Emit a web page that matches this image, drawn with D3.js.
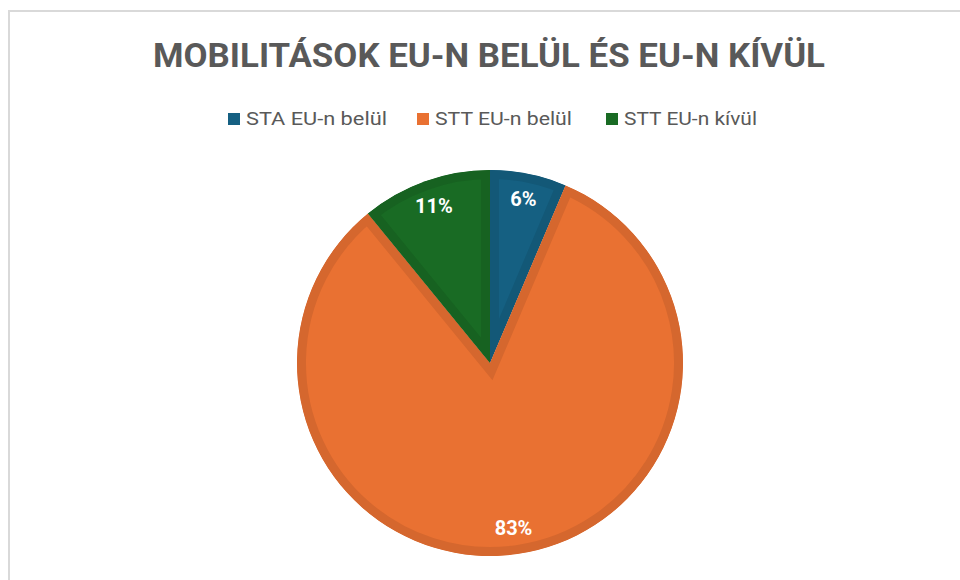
<!DOCTYPE html>
<html>
<head>
<meta charset="utf-8">
<script src="https://cdn.jsdelivr.net/npm/d3@7"></script>
<style>
  body { margin: 0; background: #fff; }
  svg { display: block; font-family: Roboto, "Open Sans", sans-serif; }
</style>
</head>
<body>
<svg id="chart" width="960" height="580"></svg>
<script>
// chart data
const title = "MOBILITÁSOK EU-N BELÜL ÉS EU-N KÍVÜL";
const categories = ["STA EU-n belül", "STT EU-n belül", "STT EU-n kívül"];
const values = [6.4, 82.7, 10.9];
const colors = ["#156082", "#E97132", "#196B24"];

const width = 960, height = 580;
const cx = 490, cy = 363, radius = 193, band = 9;

let svg = d3.select("#chart");

// frame of the chart area
svg.append("rect")
    .attr("x", 9).attr("y", 11)
    .attr("width", 1000).attr("height", 1000)
    .attr("fill", "#fff")
    .attr("stroke", "#d9d9d9")
    .attr("stroke-width", 2);

svg.append("text")
    .attr("x", 489).attr("y", 67)
    .attr("text-anchor", "middle")
    .attr("font-size", 33)
    .attr("font-weight", "bold")
    .attr("fill", "#595959")
    .attr("textLength", 672)
    .attr("lengthAdjust", "spacingAndGlyphs")
    .text(title);

// legend
const legendX = [228, 417, 606];
const legendW = [141, 137, 133];
const legend = svg.append("g").selectAll("g")
    .data(categories)
    .join("g")
    .attr("transform", (d, i) => `translate(${legendX[i]}, 113)`);

legend.append("rect")
    .attr("width", 12).attr("height", 12)
    .attr("fill", (d, i) => colors[i]);

legend.append("text")
    .attr("x", 18).attr("y", 6)
    .attr("dy", "0.35em")
    .attr("font-size", 18)
    .attr("fill", "#595959")
    .attr("textLength", (d, i) => legendW[i])
    .attr("lengthAdjust", "spacingAndGlyphs")
    .text(d => d);

// pie
const total = d3.sum(values);
const pie = d3.pie().sort(null).value(d => d.value);
const arcs = pie(categories.map((c, i) => ({name: c, value: values[i], color: colors[i]})));

const arc = d3.arc().innerRadius(0).outerRadius(radius);
const labelArc = d3.arc().innerRadius(167).outerRadius(167);

const g = svg.append("g").attr("transform", `translate(${cx}, ${cy})`);

const defs = svg.append("defs");
arcs.forEach((d, i) => {
    defs.append("clipPath").attr("id", "clip" + i)
        .append("path").attr("d", arc(d));
});

g.selectAll("path.slice")
    .data(arcs)
    .join("path")
    .attr("class", "slice")
    .attr("d", arc)
    .attr("fill", d => d.data.color)
    .attr("stroke", d => d3.color(d.data.color).darker(0.25))
    .attr("stroke-width", band * 2)
    .attr("stroke-linejoin", "miter")
    .attr("clip-path", (d, i) => `url(#clip${i})`);

g.selectAll("text.lbl")
    .data(arcs)
    .join("text")
    .attr("class", "lbl")
    .attr("transform", d => `translate(${labelArc.centroid(d)})`)
    .attr("text-anchor", "middle")
    .attr("dy", "0.35em")
    .attr("font-size", 20)
    .attr("font-weight", "bold")
    .attr("fill", "#fff")
    .text(d => d3.format(".0%")(d.data.value / total));
</script>
</body>
</html>
